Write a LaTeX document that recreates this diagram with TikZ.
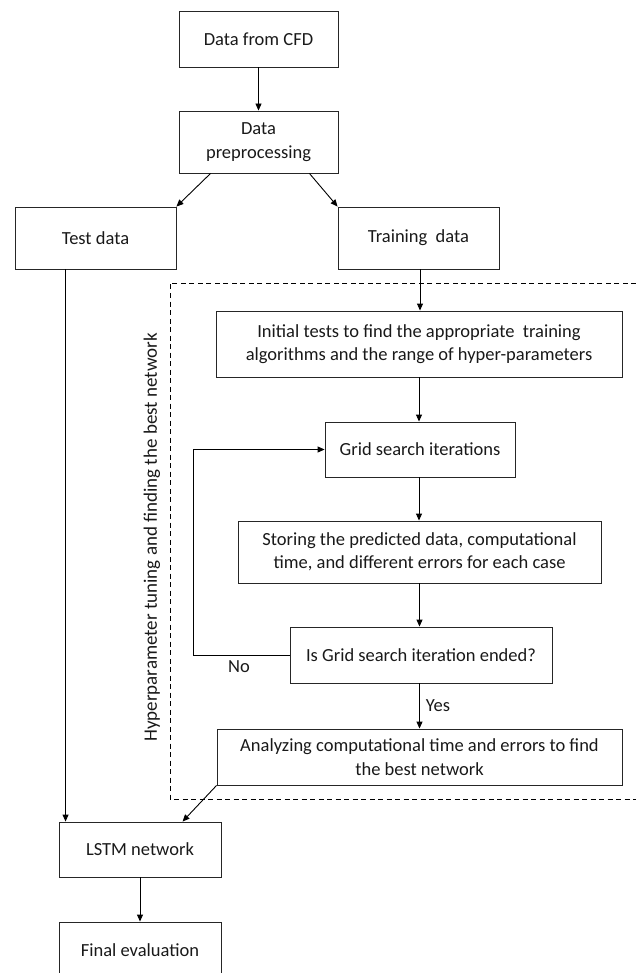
\documentclass[tikz,border=0pt]{standalone}
\usepackage{fontspec}
\setmainfont{Carlito}
\usetikzlibrary{arrows.meta,calc}
\begin{document}
\begin{tikzpicture}[x=1pt,y=1pt,
  box/.style={draw=black!85, line width=0.9pt, inner sep=0pt, align=center,
    font=\fontsize{18.5}{23.5}\selectfont, text=black!90},
  arr/.style={draw=black, line width=0.9pt, -{Triangle[length=7pt,width=6pt]}},
  lbl/.style={font=\fontsize{18.5}{20}\selectfont, text=black!90, inner sep=0pt},
  dbox/.style={draw=black, line width=0.9pt, dash pattern=on 5pt off 3.5pt}]
\useasboundingbox (0,0) rectangle (636,-973);
% nodes
\node[box, minimum width=159pt, minimum height=56pt] (cfd) at (258.5,-39) {Data from CFD};
\node[box, minimum width=159pt, minimum height=62pt] (prep) at (258.5,-142) {Data\\preprocessing};
\node[box, minimum width=161pt, minimum height=62pt] (test) at (95.5,-238) {Test data};
\node[box, minimum width=161pt, minimum height=62pt] (train) at (418.5,-238) {Training\ \ data};
\node[box, minimum width=406pt, minimum height=66pt] (init) at (419,-344) {Initial tests to find the appropriate\ \ training\\algorithms and the range of hyper-parameters};
\node[box, minimum width=190pt, minimum height=55pt] (grid) at (420,-449.5) {Grid search iterations};
\node[box, minimum width=363pt, minimum height=62pt] (store) at (419.5,-552) {Storing the predicted data, computational\\time, and different errors for each case};
\node[box, minimum width=262pt, minimum height=56pt] (dec) at (421,-655) {Is Grid search iteration ended?};
\node[box, minimum width=405pt, minimum height=56pt] (ana) at (419.5,-757) {Analyzing computational time and errors to find\\the best network};
\node[box, minimum width=162pt, minimum height=55pt] (lstm) at (140,-849.5) {LSTM network};
\node[box, minimum width=162pt, minimum height=56pt] (final) at (140,-950) {Final evaluation};
% dashed region
\coordinate (d1) at (636,-283);
\coordinate (d2) at (170,-283);
\coordinate (d3) at (170,-799);
\coordinate (d4) at (636,-799);
\draw[dbox] (d1) -- (d2) -- (d3) -- (d4);
\node[lbl, rotate=90, font=\fontsize{19}{20}\selectfont] (hlab) at (152,-537.5) {Hyperparameter tuning and finding the best network};
% connectors
\draw[arr] (cfd.south) -- (prep.north);
\draw[arr] ($(prep.south west)+(32pt,0)$) -- (test.north east);
\draw[arr] ($(prep.south east)+(-29pt,0)$) -- (train.north west);
\draw[arr] ($(train.south)+(1.5pt,0)$) -- ($(init.north)+(1pt,0)$);
\draw[arr] (init.south) -- (init.south |- grid.north);
\draw[arr] (grid.south -| init.south) -- (init.south |- store.north);
\draw[arr] (store.south) -- (store.south |- dec.north);
\draw[arr] (store.south |- dec.south) -- node[lbl, right=6pt, pos=0.5] (yes) {Yes} (store.south |- ana.north);
\coordinate (fb) at (193,-655);
\draw[arr] (dec.west) -- (fb) |- (grid.west);
\node[lbl] (no) at (239,-667) {No};
\draw[arr] ($(test.south west)+(51pt,0)$) -- ($(lstm.north west)+(7pt,0)$);
\draw[arr] (ana.south west) -- ($(lstm.north west)+(124pt,0)$);
\draw[arr] (lstm.south) -- (final.north);
\end{tikzpicture}
\end{document}
